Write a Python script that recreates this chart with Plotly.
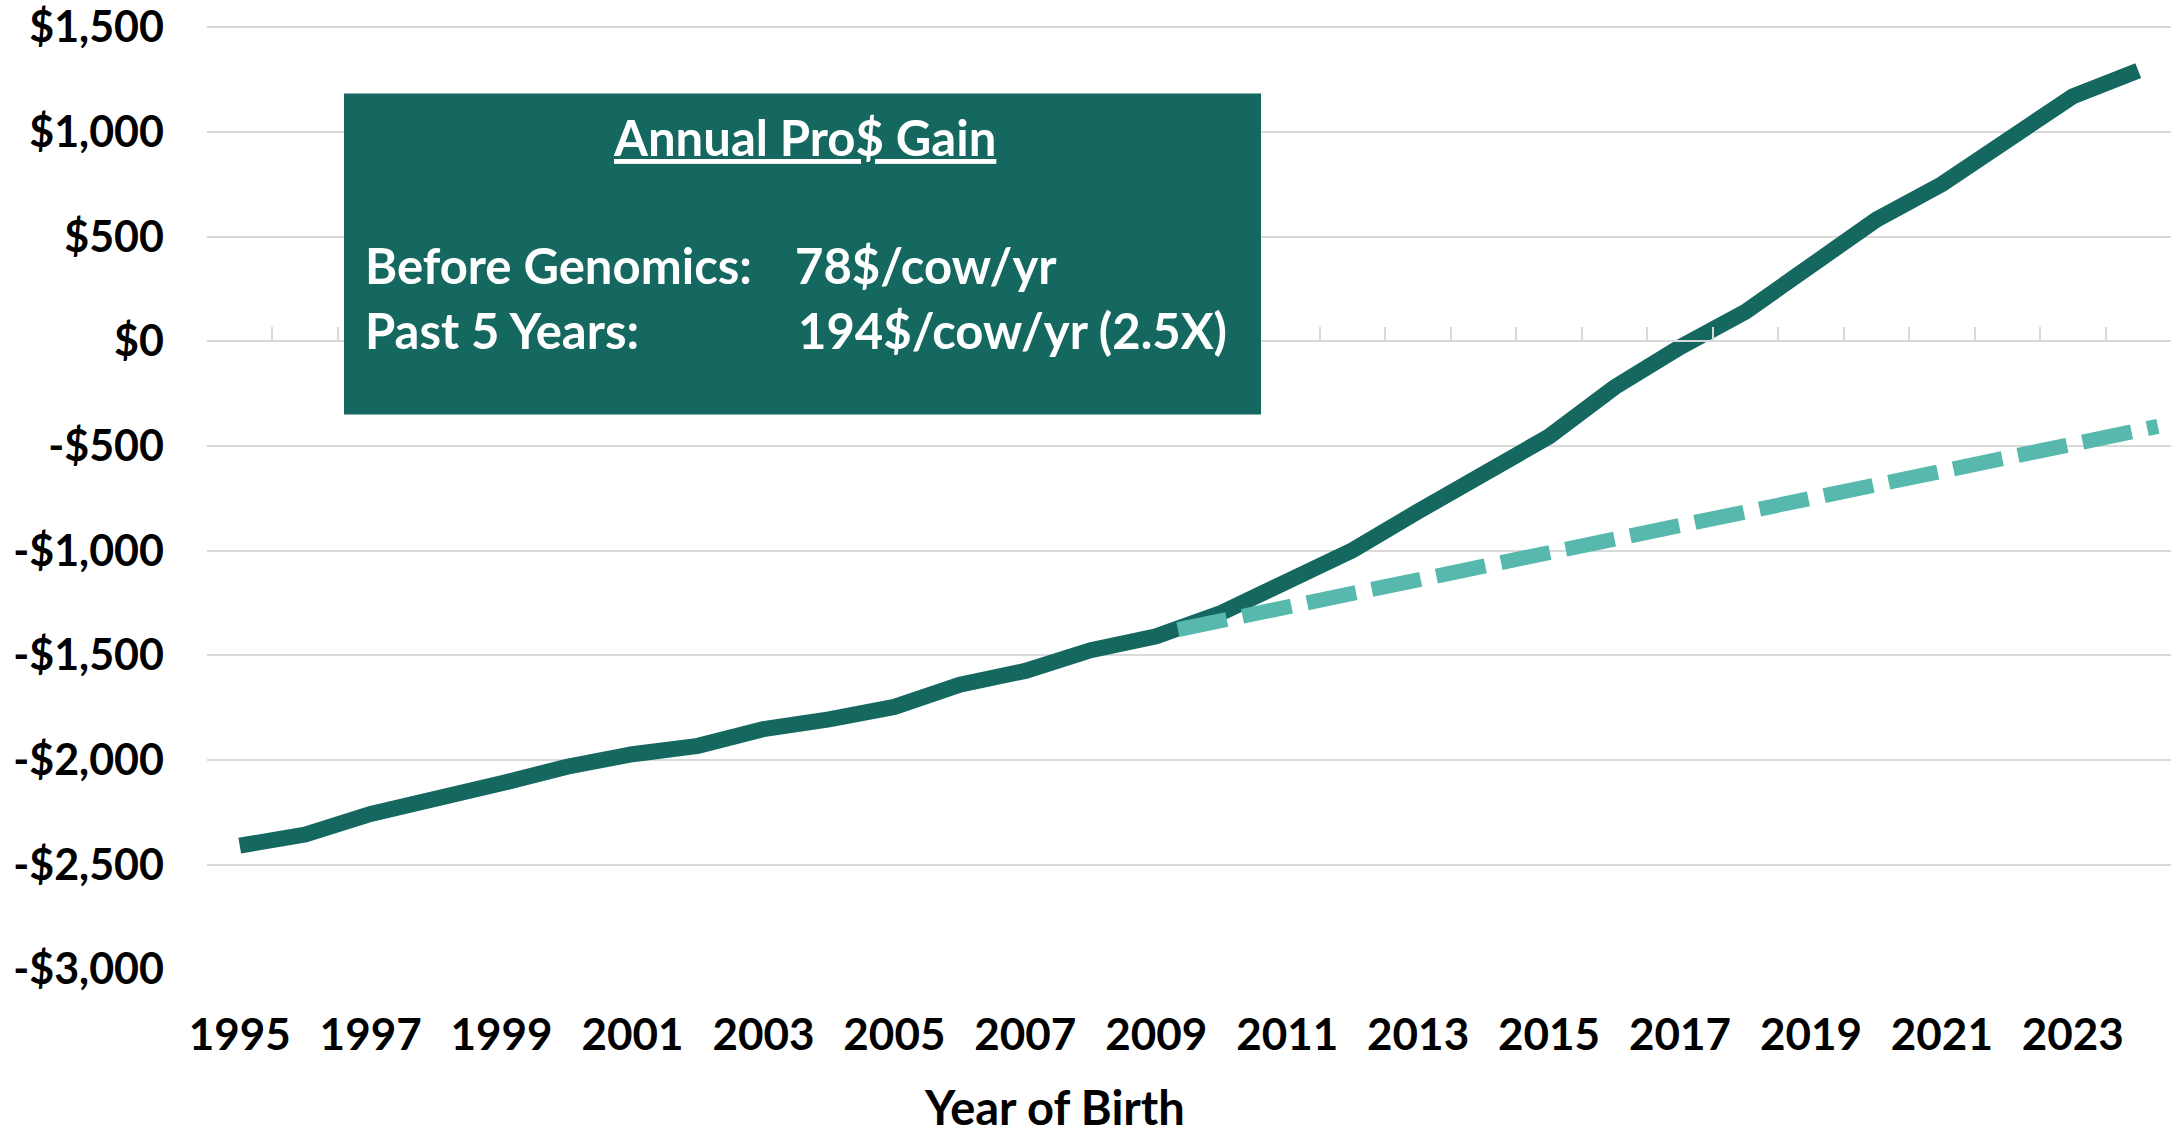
import plotly.graph_objects as go

# Pro$ by year of birth
years = list(range(1995, 2025))
pro_dollars = [-2410, -2357, -2258, -2192, -2112, -2033, -1973, -1933, -1853, -1807,
               -1747, -1641, -1575, -1476, -1410, -1297, -1151, -998, -813, -627,
               -455, -220, -28, 141, 357, 581, 750, 963, 1170, 1293]

# pre-genomics trend projected forward
trend_years = [2009.33, 2024.3]
trend_values = [-1378, -407]

y_ticks = [1500, 1000, 500, 0, -500, -1000, -1500, -2000, -2500, -3000]
y_labels = ["$1,500", "$1,000", "$500", "$0", "-$500", "-$1,000", "-$1,500",
            "-$2,000", "-$2,500", "-$3,000"]

DARK = "#156860"
LIGHT = "#57B9AE"
GRID = "#D9D9D9"
FONT = "Lato"

Y_MIN, Y_MAX = -3004, 1506

W, H = 2175, 1136
L, R, T, B = 207, 4, 26.44, 165.66


def px(x):
    return (x - L) / (W - L - R)


def py(y):
    return (H - B - y) / (H - T - B)


fig = go.Figure()
fig.add_trace(go.Scatter(x=years, y=pro_dollars, mode="lines",
                         line=dict(color=DARK, width=16), hoverinfo="skip"))
fig.add_trace(go.Scatter(x=trend_years, y=trend_values, mode="lines", xaxis="x2",
                         line=dict(color=LIGHT, width=15, dash="50px,16px"),
                         hoverinfo="skip"))

fig.update_layout(
    width=W, height=H,
    margin=dict(l=L, r=R, t=T, b=B, pad=0),
    plot_bgcolor="white", paper_bgcolor="white",
    showlegend=False,
    font=dict(family=FONT, color="black"),
    xaxis=dict(range=[1994.5, 2024.5], tickmode="linear", tick0=1995, dtick=2,
               showgrid=False, zeroline=False, showline=False, ticks="",
               ticklabelstandoff=35, automargin=False, ticklabeloverflow="allow",
               tickfont=dict(family=FONT, size=44, color="black", weight=700)),
    xaxis2=dict(range=[1994.5, 2024.5], overlaying="x", anchor="free",
                position=-Y_MIN / (Y_MAX - Y_MIN), tickmode="linear",
                tick0=1994.5, dtick=1,
                ticks="inside", ticklen=13, tickwidth=2, tickcolor=GRID,
                showline=True, linecolor=GRID, linewidth=2, automargin=False,
                showticklabels=False, showgrid=False, zeroline=False),
    yaxis=dict(range=[Y_MIN, Y_MAX], tickmode="array", tickvals=y_ticks,
               ticktext=y_labels, showgrid=True, gridcolor=GRID, gridwidth=2,
               zeroline=False, showline=False, ticks="", ticklabelstandoff=42,
               automargin=False, ticklabeloverflow="allow",
               tickfont=dict(family=FONT, size=43, color="black", weight=700)),
)

# text box
fig.add_shape(type="rect", xref="paper", yref="paper",
              x0=px(344), x1=px(1261), y0=py(415), y1=py(94),
              fillcolor=DARK, line=dict(width=0), layer="above")

box_font = dict(family=FONT, size=49, color="white", weight=700)
fig.add_annotation(xref="paper", yref="paper", x=px(804), y=py(137),
                   text="<u>Annual Pro$ Gain</u>", showarrow=False,
                   xanchor="center", yanchor="middle", font=box_font)
fig.add_annotation(xref="paper", yref="paper", x=px(363), y=py(265),
                   text="Before Genomics:", showarrow=False,
                   xanchor="left", yanchor="middle", font=box_font)
fig.add_annotation(xref="paper", yref="paper", x=px(793), y=py(265),
                   text="78$/cow/yr", showarrow=False,
                   xanchor="left", yanchor="middle", font=box_font)
fig.add_annotation(xref="paper", yref="paper", x=px(363), y=py(330),
                   text="Past 5 Years:", showarrow=False,
                   xanchor="left", yanchor="middle", font=box_font)
fig.add_annotation(xref="paper", yref="paper", x=px(796), y=py(330),
                   text="194$/cow/yr (2.5X)", showarrow=False,
                   xanchor="left", yanchor="middle", font=box_font)

# axis title
fig.add_annotation(xref="paper", yref="paper", x=px(1054), y=py(1107),
                   text="Year of Birth", showarrow=False,
                   xanchor="center", yanchor="middle",
                   font=dict(family=FONT, size=47, color="black", weight=700))

# drop the browser's default body margin so the chart sits at the page corner
fig.write_html("out.html", config={"displayModeBar": False},
               post_script="document.body.style.margin='0';")
